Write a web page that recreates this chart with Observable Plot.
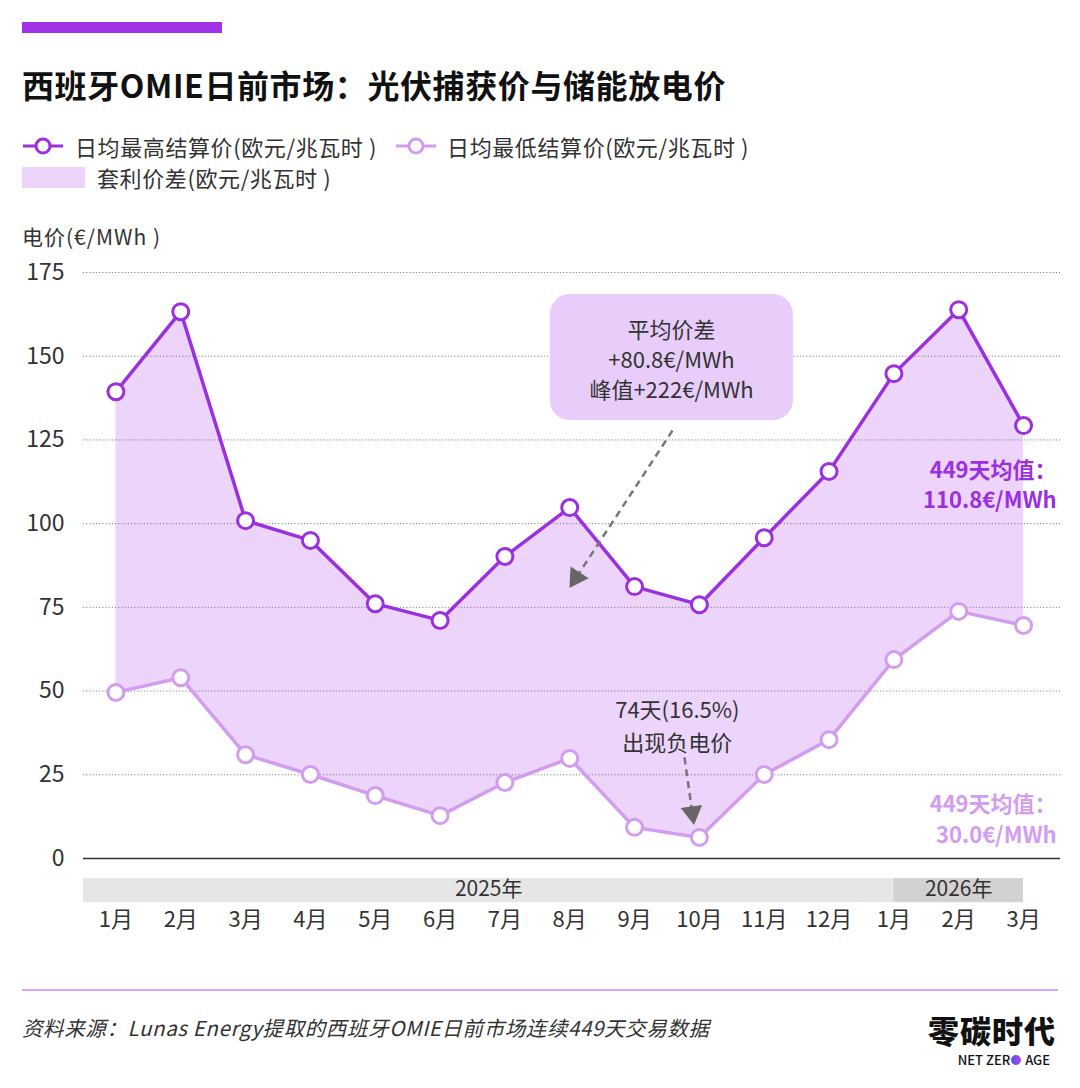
<!DOCTYPE html>
<html><head><meta charset="utf-8">
<script src="https://cdn.jsdelivr.net/npm/d3@7"></script>
<script src="https://cdn.jsdelivr.net/npm/@observablehq/plot@0.6"></script>
<style>
body{margin:0;background:#fff;font-family:"Noto Sans CJK SC","Noto Sans",sans-serif;color:#333}
#wrap{position:relative;width:1080px;height:1088px;overflow:hidden;background:#fff}
.abs{position:absolute;white-space:nowrap;line-height:1}
#chart{position:absolute;left:0;top:250px}
</style></head><body><div id="wrap">
<div class="abs" style="left:22px;top:22px;width:200px;height:11px;background:#a033e6"></div>
<div class="abs" style="left:22px;top:68px;font-size:32px;font-weight:700;color:#111;letter-spacing:0.6px">西班牙OMIE日前市场：光伏捕获价与储能放电价</div>
<div class="abs" style="left:22px;top:135px;font-size:22px;display:flex;align-items:center;letter-spacing:0.6px">
  <svg width="42" height="22"><line x1="1" x2="41" y1="11" y2="11" stroke="#9b30e0" stroke-width="3"/><circle cx="21" cy="11" r="7" fill="#fff" stroke="#9b30e0" stroke-width="3"/></svg>
  <span style="margin-left:11px">日均最高结算价(欧元/兆瓦时 )</span>
  <svg width="42" height="22" style="margin-left:18px"><line x1="1" x2="41" y1="11" y2="11" stroke="#d29cf0" stroke-width="3"/><circle cx="21" cy="11" r="7" fill="#fff" stroke="#d29cf0" stroke-width="3"/></svg>
  <span style="margin-left:10px">日均最低结算价(欧元/兆瓦时 )</span>
</div>
<div class="abs" style="left:22px;top:166px;font-size:22px;display:flex;align-items:center;letter-spacing:0.6px">
  <div style="width:63px;height:21px;background:#ecd4fb"></div>
  <span style="margin-left:12px">套利价差(欧元/兆瓦时 )</span>
</div>
<div class="abs" style="left:22px;top:226px;font-size:21px;letter-spacing:1px">电价(€/MWh )</div>
<div id="chart"></div>
<div class="abs" style="left:22px;top:989px;width:1036px;height:2px;background:#d8a6f2"></div>
<div class="abs" style="left:22px;top:1017px;font-size:20.5px;font-style:italic;color:#333;letter-spacing:0.6px">资料来源：Lunas Energy提取的西班牙OMIE日前市场连续449天交易数据</div>
<div class="abs" style="right:24px;top:1014px;font-size:31px;font-weight:900;color:#111;letter-spacing:1px">零碳时代</div>
<div class="abs" style="right:30px;top:1053px;font-size:13px;font-weight:500;color:#111">NET ZER<span style="display:inline-block;width:10px;height:10px;border-radius:50%;background:linear-gradient(90deg,#4a56f0,#c040e0);margin:0 1px"></span> AGE</div>
</div>
<script>
const months = ["1月","2月","3月","4月","5月","6月","7月","8月","9月","10月","11月","12月","1月","2月","3月"];
const highs = [139.4,163.3,100.9,95.0,76.1,71.1,90.2,104.8,81.2,75.8,95.8,115.6,144.8,163.9,129.3];
const lows  = [49.6,54.0,31.0,25.1,18.8,12.8,22.7,29.9,9.3,6.3,25.1,35.5,59.4,73.8,69.6];
const yTicks = [0,25,50,75,100,125,150,175];
const years = ["2025年","2026年"];
const yearFirstMonth = [0,12];
const yearLastMonth = [11,14];
const calloutText = "平均价差\n+80.8€/MWh\n峰值+222€/MWh";
const negText = "74天(16.5%)\n出现负电价";
const highAvgText = "449天均值：\n110.8€/MWh";
const lowAvgText = "449天均值：\n30.0€/MWh";

const data = months.map((m,i)=>({i, m, high:highs[i], low:lows[i]}));
const yearData = years.map((y,k)=>({year:y, k,
  x1: k===0 ? yearFirstMonth[k]-0.5 : yearFirstMonth[k],
  x2: k===0 ? yearFirstMonth[k+1] : yearLastMonth[k]}));

const FONT = '"Noto Sans CJK SC","Noto Sans",sans-serif';
const HI = "#9b30e0", LO = "#d29cf0";

const arrows = [
  {x1:8.585, y1:127.8, x2:7.10, y2:83.9, rot:213},
  {x1:8.77, y1:30.2, x2:8.89, y2:13.7, rot:172}
];

const chart = Plot.plot({
  width:1080, height:700,
  marginTop:22, marginBottom:92, marginLeft:83, marginRight:20,
  x:{type:"linear", domain:[-0.5,14.57], axis:null},
  y:{domain:[0,175], axis:null},
  style:{fontFamily:FONT, fontSize:"21px", color:"#333", overflow:"visible", background:"transparent"},
  marks:[
    Plot.areaY(data,{x:"i", y1:"low", y2:"high", fill:"#ecd4fb"}),
    Plot.gridY(yTicks.filter(d=>d>0), {stroke:"#777", strokeOpacity:0.9, strokeWidth:1, strokeDasharray:"1.2,2"}),
    Plot.ruleY([0],{stroke:"#333", strokeWidth:1.5}),
    Plot.axisY(yTicks,{tickSize:0, tickPadding:19, fontSize:23, fill:"#333"}),
    Plot.axisX(d3.range(months.length), {tickSize:0, tickPadding:53, fontSize:22, fill:"#333", tickFormat:i=>months[i]}),
    Plot.rect(yearData,{x1:"x1", x2:"x2", y1:-6, y2:-13.2, fill:d=>d.k===0?"#e6e6e6":"#d2d2d2"}),
    Plot.text(yearData,{x:d=>(d.x1+d.x2)/2, y:-9.3, text:"year", fontSize:21, fill:"#333"}),
    Plot.rect([calloutText],{x1:6.70, x2:10.45, y1:130.8, y2:168.4, rx:20, fill:"#e8cdfa"}),
    Plot.text([calloutText],{x:8.57, y:149.4, text:d=>d, fontSize:22, lineHeight:1.37, fill:"#333"}),
    Plot.line(data,{x:"i", y:"low", stroke:LO, strokeWidth:3.5}),
    Plot.line(data,{x:"i", y:"high", stroke:HI, strokeWidth:3.5}),
    Plot.dot(data,{x:"i", y:"low", r:8, fill:"#fff", stroke:LO, strokeWidth:3}),
    Plot.dot(data,{x:"i", y:"high", r:8, fill:"#fff", stroke:HI, strokeWidth:3}),
    Plot.link(arrows,{x1:"x1", y1:"y1", x2:"x2", y2:"y2", stroke:"#777", strokeWidth:2.5, strokeDasharray:"7,5"}),
    Plot.dot(arrows,{x:"x2", y:"y2", symbol:"triangle", r:8, rotate:"rot", fill:"#666", stroke:"none"}),
    Plot.text([negText],{x:8.66, y:40.2, text:d=>d, fontSize:22, lineHeight:1.5, fill:"#333"}),
    Plot.text([highAvgText],{x:14.51, y:112.1, text:d=>d, textAnchor:"end", fontSize:22, fontWeight:700, lineHeight:1.4, fill:HI}),
    Plot.text([lowAvgText],{x:14.51, y:12.2, text:d=>d, textAnchor:"end", fontSize:22, fontWeight:700, lineHeight:1.4, fill:LO})
  ]
});
document.getElementById("chart").appendChild(chart);
</script>
</body></html>
